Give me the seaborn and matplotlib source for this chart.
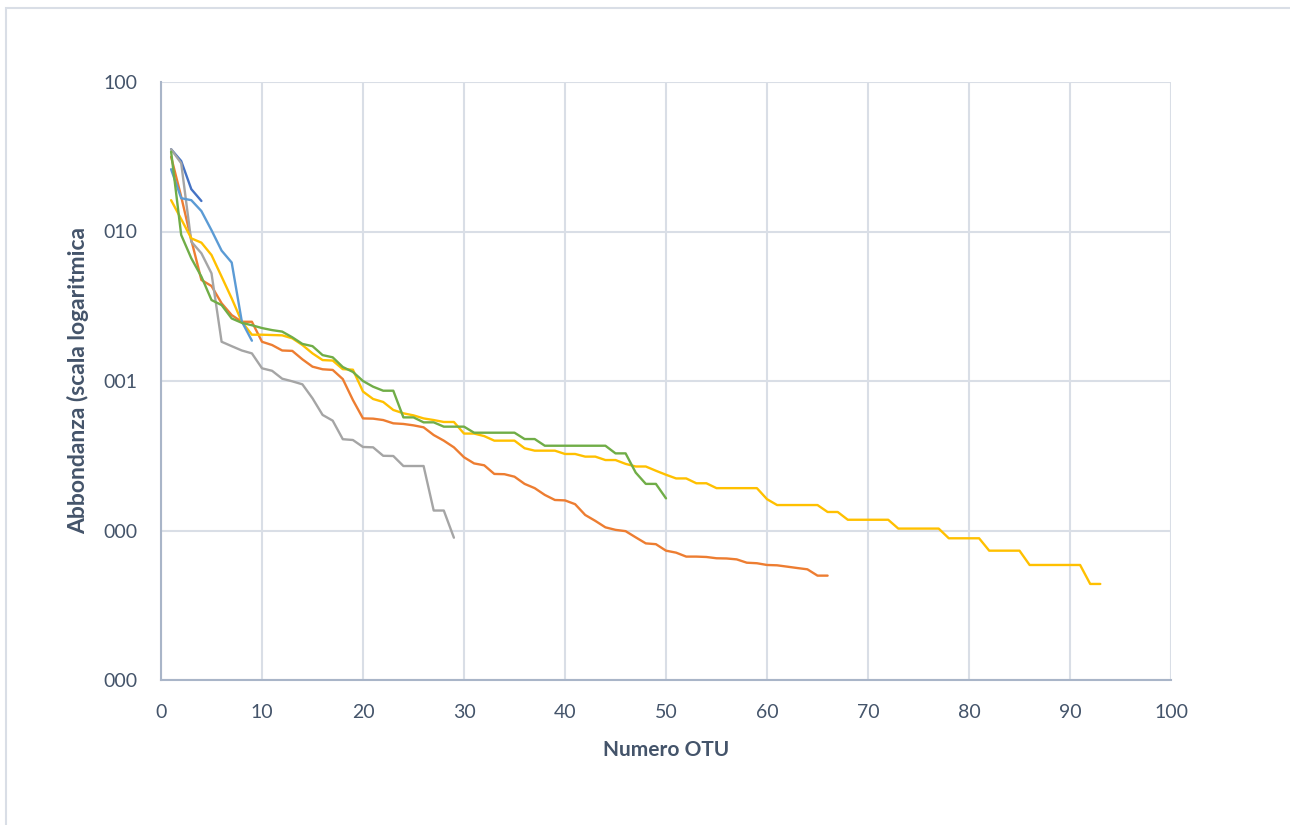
import numpy as np
import pandas as pd
import matplotlib
matplotlib.use("Agg")
import matplotlib.pyplot as plt
from matplotlib.patches import Rectangle
import seaborn as sns

# ---- data (relative abundance per OTU rank) ----
serie_1 = [0.355, 0.296, 0.192, 0.160]
serie_2 = [0.316, 0.171, 0.0877, 0.0474, 0.0432, 0.0331, 0.0276, 0.0249, 0.0249, 0.0183,
           0.0174, 0.0160, 0.0159, 0.01396, 0.01247, 0.01198, 0.01186, 0.0103, 0.00746, 0.00562,
           0.0056, 0.00548, 0.00521, 0.00516, 0.00505, 0.0049, 0.00435, 0.00399, 0.0036, 0.00309,
           0.00281, 0.00273, 0.00239, 0.00238, 0.00229, 0.00205, 0.00192, 0.00173, 0.0016, 0.00159,
           0.0015, 0.00127, 0.00116, 0.00105, 0.00101, 0.00099, 0.0009, 0.00082, 0.00081, 0.000733,
           0.000711, 0.000669, 0.000669, 0.000665, 0.000652, 0.00065, 0.000641, 0.000609, 0.000604, 0.000588,
           0.000585, 0.000573, 0.000561, 0.00055, 0.000499, 0.000499]
serie_3 = [0.355, 0.286, 0.0855, 0.0715, 0.0525, 0.0183, 0.0171, 0.0160, 0.0153, 0.01216,
           0.0117, 0.01036, 0.00995, 0.0095, 0.00766, 0.00593, 0.00543, 0.00408, 0.00403, 0.00362,
           0.0036, 0.00316, 0.00315, 0.0027, 0.0027, 0.0027, 0.00136, 0.00136, 0.000895]
serie_4 = [0.162, 0.121, 0.090, 0.0842, 0.0696, 0.0499, 0.0357, 0.0249, 0.0204, 0.0204,
           0.0203, 0.0202, 0.0193, 0.0174, 0.0153, 0.0138, 0.0137, 0.0120, 0.0119, 0.0085,
           0.00758, 0.00724, 0.0064, 0.00608, 0.00589, 0.00562, 0.00548, 0.00532, 0.00532, 0.00445,
           0.00445, 0.00428, 0.00399, 0.00399, 0.00399, 0.00355, 0.00342, 0.00342, 0.00342, 0.00325,
           0.00325, 0.00312, 0.00312, 0.00296, 0.00296, 0.00279, 0.00268, 0.00268, 0.00251, 0.00236,
           0.00223, 0.00223, 0.00207, 0.00207, 0.00192, 0.00192, 0.00192, 0.00192, 0.00192, 0.00162,
           0.00148, 0.00148, 0.00148, 0.00148, 0.00148, 0.00133, 0.00133, 0.00118, 0.00118, 0.00118,
           0.00118, 0.00118, 0.00103, 0.00103, 0.00103, 0.00103, 0.00103, 0.000887, 0.000887, 0.000887,
           0.000887, 0.000733, 0.000733, 0.000733, 0.000733, 0.000588, 0.000588, 0.000588, 0.000588, 0.000588,
           0.000588, 0.000439, 0.000439]
serie_5 = [0.261, 0.167, 0.162, 0.137, 0.102, 0.0745, 0.062, 0.025, 0.0186]
serie_6 = [0.342, 0.0948, 0.0662, 0.0499, 0.0348, 0.0322, 0.0262, 0.0245, 0.0236, 0.0226,
           0.0219, 0.0214, 0.0196, 0.0177, 0.0171, 0.0149, 0.0144, 0.0124, 0.0115, 0.0100,
           0.00916, 0.00861, 0.00861, 0.00571, 0.00571, 0.00529, 0.00529, 0.00495, 0.00495, 0.00495,
           0.00451, 0.00451, 0.00451, 0.00451, 0.00451, 0.00409, 0.00409, 0.00369, 0.00369, 0.00369,
           0.00369, 0.00369, 0.00369, 0.00369, 0.00328, 0.00328, 0.00244, 0.00205, 0.00205, 0.00164]

series_names = ["S1", "S2", "S3", "S4", "S5", "S6"]
series_values = [serie_1, serie_2, serie_3, serie_4, serie_5, serie_6]
colors = ["#4472C4", "#ED7D31", "#A5A5A5", "#FFC000", "#5B9BD5", "#70AD47"]

y_ticks = [1, 0.1, 0.01, 0.001, 0.0001]
y_tick_labels = ["100", "010", "001", "000", "000"]
x_ticks = list(range(0, 101, 10))

frames = []
for name, vals in zip(series_names, series_values):
    frames.append(pd.DataFrame({"OTU": np.arange(1, len(vals) + 1), "Abb": vals, "Serie": name}))
df = pd.concat(frames, ignore_index=True)

sns.set_style("white")
plt.rcParams["font.family"] = ["Lato", "DejaVu Sans"]

text_col = "#44546A"
grid_col = "#D9DEE6"
axis_col = "#A9B5C8"

fig = plt.figure(figsize=(12.9, 8.25), dpi=100)
ax = fig.add_axes([161 / 1290, 1 - 680 / 825, (1171 - 161) / 1290, (680 - 82) / 825])

sns.lineplot(data=df, x="OTU", y="Abb", hue="Serie", hue_order=series_names,
             palette=dict(zip(series_names, colors)), estimator=None, sort=False,
             linewidth=1.7, legend=False, ax=ax)

ax.set_yscale("log")
ax.set_xlim(0, 100)
ax.set_ylim(1e-4, 1)
ax.set_xticks(x_ticks)
ax.set_xticklabels([str(t) for t in x_ticks])
ax.set_yticks(y_ticks)
ax.set_yticklabels(y_tick_labels)
ax.yaxis.set_minor_locator(matplotlib.ticker.NullLocator())

ax.grid(True, which="major", color=grid_col, linewidth=1.5)
ax.set_axisbelow(True)
for s in ["top", "right"]:
    ax.spines[s].set_visible(False)
for s in ["left", "bottom"]:
    ax.spines[s].set_color(axis_col)
    ax.spines[s].set_linewidth(1.5)

ax.tick_params(axis="both", length=0, labelsize=14, labelcolor=text_col)
ax.tick_params(axis="x", pad=17)
ax.tick_params(axis="y", pad=17)

ax.set_xlabel("Numero OTU", fontsize=15, fontweight="bold", color=text_col, labelpad=14)
ax.set_ylabel("Abbondanza (scala logaritmica", fontsize=16.5, fontweight="bold", color=text_col, labelpad=10)

fig.add_artist(Rectangle((6 / 1290, -0.1), 1.2, 1.1 - 8 / 825, transform=fig.transFigure,
                         fill=False, edgecolor=grid_col, linewidth=1.5))

fig.savefig("out.png", dpi=100, facecolor="white")
